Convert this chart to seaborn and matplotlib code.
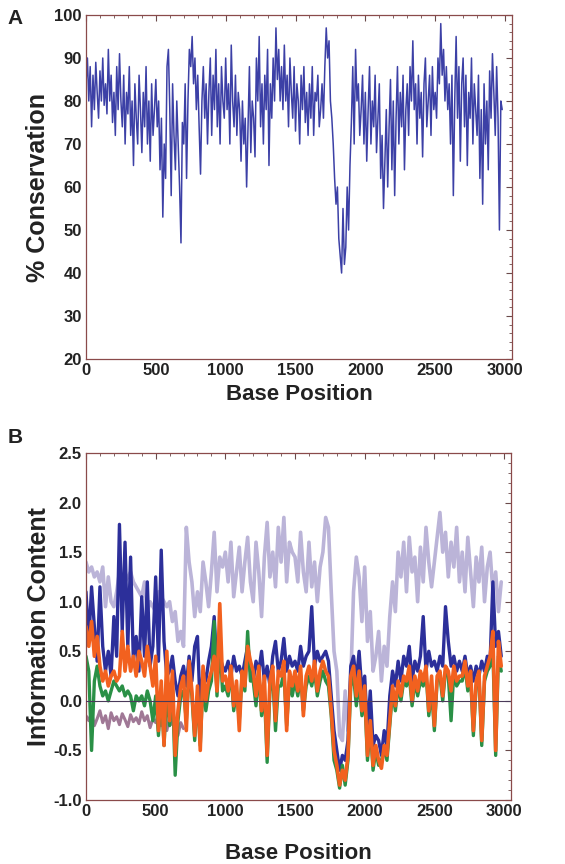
import numpy as np
import pandas as pd
import matplotlib
matplotlib.use("Agg")
import matplotlib.pyplot as plt
from matplotlib import font_manager
from matplotlib.ticker import MultipleLocator
import seaborn as sns

# ---------------- data ----------------
# Panel A: % conservation, one value every 10 bases starting at 0
conservation = [
    84, 90, 80, 88, 74, 86, 78, 89, 82, 76, 87, 80, 90, 79, 84, 77, 92, 80, 86, 75,
    82, 72, 88, 78, 91, 80, 74, 86, 70, 82, 77, 88, 72, 80, 65, 84, 76, 70, 86, 78,
    68, 82, 74, 88, 70, 80, 66, 84, 72, 78, 85, 74, 80, 64, 76, 53, 70, 62, 88, 92,
    78, 58, 84, 72, 64, 80, 70, 60, 47, 75, 70, 84, 62, 80, 92, 88, 95, 84, 90, 78,
    86, 74, 63, 80, 88, 76, 84, 70, 82, 90, 72, 86, 78, 92, 74, 84, 70, 88, 80, 76,
    90, 78, 84, 70, 93, 80, 74, 86, 72, 82, 78, 66, 80, 70, 76, 60, 74, 88, 68, 80,
    76, 67, 90, 80, 95, 74, 84, 70, 86, 78, 92, 65, 84, 76, 90, 80, 97, 85, 92, 80,
    88, 78, 93, 80, 86, 74, 90, 82, 76, 88, 73, 84, 80, 70, 86, 78, 88, 75, 82, 72,
    84, 76, 88, 72, 82, 80, 86, 74, 78, 84, 76, 88, 97, 90, 94, 80, 76, 70, 62, 56,
    60, 48, 44, 40, 55, 42, 46, 60, 50, 65, 75, 88, 70, 92, 80, 84, 72, 78, 86, 70,
    82, 66, 78, 88, 70, 80, 74, 86, 68, 76, 84, 62, 72, 55, 66, 78, 60, 74, 85, 64,
    80, 58, 76, 88, 70, 82, 74, 86, 64, 78, 84, 72, 88, 80, 94, 78, 84, 70, 86, 76,
    82, 67, 84, 90, 74, 80, 86, 72, 88, 78, 82, 76, 90, 84, 98, 86, 92, 80, 88, 78,
    84, 70, 86, 58, 80, 95, 76, 88, 66, 84, 90, 74, 86, 65, 82, 76, 90, 70, 84, 78,
    72, 86, 62, 78, 56, 84, 70, 80, 64, 87, 76, 91, 82, 72, 88, 76, 50, 80, 78,
]
cons_step = 10

# Panel B: information content, one value every 20 bases starting at 0
info_lavender = [
    1.40, 1.30, 1.35, 1.25, 1.30,  1.20, 1.35, 0.95, 1.25, 1.00,
    0.95, 1.10, 1.30, 1.25, 1.20,  1.25, 1.30, 1.20, 1.15, 1.10,
    1.05, 1.20, 0.90, 1.00, 0.95,  0.90, 1.10, 1.05, 1.00, 0.95,
    1.00, 0.80, 0.90, 0.60, 0.70,  0.55, 1.75, 1.40, 1.20, 0.85,
    1.10, 0.90, 1.40, 1.20, 0.95,  1.30, 1.70, 1.10, 1.45, 1.35,
    1.50, 1.20, 1.60, 1.05, 1.30,  1.55, 1.10, 1.40, 1.65, 1.20,
    1.00, 1.60, 1.30, 0.85, 1.45,  1.80, 1.25, 1.50, 1.15, 1.75,
    1.40, 1.85, 1.20, 1.60, 1.50,  1.45, 1.20, 1.70, 1.30, 1.10,
    1.60, 1.15, 1.40, 1.00, 1.35,  1.50, 1.85, 1.75, 1.10, 0.50,
    0.30, -0.35, -0.40, 0.10, -0.30,  0.20, 1.10, 1.45, 1.25, 0.80,
    1.35, 0.60, 0.90, 0.30, 0.45,  0.70, 0.20, 0.55, 0.35, 0.85,
    1.20, 0.90, 1.50, 1.25, 1.60,  1.10, 1.65, 1.30, 1.45, 1.00,
    1.55, 1.20, 1.75, 1.40, 1.15,  1.40, 1.65, 1.90, 1.50, 1.70,
    1.25, 1.60, 1.35, 1.75, 1.20,  1.50, 1.10, 1.65, 1.30, 0.95,
    1.45, 1.20, 1.55, 1.00, 1.35,  1.50, 1.10, 1.30, 0.90, 1.20,
]
info_blue = [
    1.10, 0.60, 1.15, 0.75, 0.40,  1.15, 0.55, 0.30, 0.50, 0.25,
    0.85, 0.45, 1.78, 0.70, 1.60,  0.55, 1.45, 0.40, 0.65, 0.30,
    1.05, 0.45, 1.20, 0.35, 0.55,  1.25, 0.40, 1.52, 0.60, 0.25,
    0.30, 0.45, 0.20, 0.05, 0.25,  0.35, 0.15, 0.45, 0.20, 0.55,
    0.65, -0.10, 0.30, 0.20, 0.40,  0.55, 0.85, 0.30, 0.45, 0.35,
    0.30, 0.40, 0.25, 0.45, 0.30,  0.35, 0.25, 0.40, 0.55, 0.30,
    0.20, 0.40, 0.30, 0.50, 0.20,  0.35, 0.15, 0.45, 0.60, 0.30,
    0.40, 0.63, 0.30, 0.45, 0.35,  0.40, 0.30, 0.55, 0.35, 0.45,
    0.50, 0.95, 0.35, 0.50, 0.40,  0.45, 0.50, 0.40, 0.05, -0.30,
    -0.50, -0.70, -0.55, -0.60, -0.40,  0.35, 0.45, 0.20, 0.50, 0.10,
    0.25, -0.30, 0.10, -0.45, -0.35,  -0.40, -0.55, -0.30, -0.45, 0.05,
    0.30, 0.15, 0.40, 0.20, 0.45,  0.35, 0.55, 0.20, 0.40, 0.30,
    0.45, 0.85, 0.30, 0.50, 0.35,  0.40, 0.30, 0.45, 0.35, 0.95,
    0.60, 0.35, 0.45, 0.30, 0.40,  0.30, 0.45, 0.25, 0.35, 0.20,
    0.35, 0.25, 0.40, 0.30, 0.45,  0.40, 1.20, 0.55, 0.70, 0.45,
]
info_green = [
    0.45, 0.30, -0.50, 0.20, 0.35,  0.15, 0.05, 0.10, 0.00, 0.10,
    0.20, 0.15, 0.10, 0.15, 0.05,  0.10, 0.05, -0.10, 0.05, 0.00,
    0.05, -0.05, 0.10, 0.00, -0.20,  0.05, -0.35, 0.10, -0.45, 0.10,
    -0.25, 0.15, -0.75, -0.20, 0.05,  0.10, -0.20, 0.30, 0.05, -0.40,
    0.05, -0.45, 0.20, -0.10, 0.10,  0.20, 0.80, 0.05, 0.60, 0.10,
    0.15, 0.05, 0.30, -0.10, 0.10,  -0.20, 0.25, 0.10, 0.70, 0.20,
    0.20, -0.05, 0.30, -0.15, 0.10,  -0.62, 0.10, 0.25, -0.30, 0.15,
    0.15, 0.30, -0.25, 0.20, 0.05,  0.20, 0.05, 0.25, -0.10, 0.15,
    0.25, 0.15, 0.30, 0.05, 0.20,  0.30, 0.20, 0.15, -0.15, -0.60,
    -0.70, -0.88, -0.65, -0.85, -0.60,  0.15, 0.25, -0.05, 0.20, -0.15,
    0.05, -0.60, -0.25, -0.70, -0.50,  -0.65, -0.60, -0.50, -0.60, -0.25,
    0.10, -0.10, 0.15, 0.00, 0.20,  0.15, 0.25, -0.05, 0.20, 0.05,
    0.20, 0.15, 0.30, -0.15, 0.10,  -0.30, 0.20, 0.25, 0.00, 0.30,
    0.25, -0.20, 0.30, 0.15, 0.20,  0.20, 0.35, 0.10, 0.25, -0.35,
    0.15, 0.25, -0.45, 0.20, 0.30,  0.35, 0.50, -0.55, 0.45, 0.30,
]
info_orange = [
    0.75, 0.55, 0.80, 0.45, 0.65,  0.35, 0.20, 0.30, 0.15, 0.25,
    0.30, 0.20, 0.25, 0.70, 0.30,  0.55, 0.30, 0.45, 0.25, 0.50,
    0.40, 0.25, 0.55, 0.35, 0.15,  0.45, -0.30, 0.20, -0.45, 0.50,
    -0.20, 0.30, -0.55, -0.10, 0.15,  0.25, -0.30, 0.40, 0.10, -0.35,
    0.15, -0.50, 0.35, 0.00, 0.20,  0.30, 0.45, 0.10, 0.98, 0.20,
    0.25, 0.10, 0.35, -0.05, 0.20,  -0.30, 0.30, 0.15, 0.55, 0.40,
    0.30, 0.05, 0.35, -0.10, 0.25,  -0.55, 0.20, 0.35, -0.20, 0.30,
    0.25, 0.40, -0.30, 0.30, 0.15,  0.30, 0.10, 0.35, -0.15, 0.25,
    0.35, 0.20, 0.40, 0.10, 0.30,  0.40, 0.30, 0.25, -0.10, -0.50,
    -0.65, -0.85, -0.70, -0.80, -0.55,  0.25, 0.35, 0.05, 0.30, -0.10,
    0.15, -0.55, -0.20, -0.65, -0.45,  -0.60, -0.68, -0.45, -0.55, -0.20,
    0.15, -0.05, 0.20, 0.05, 0.25,  0.20, 0.35, 0.00, 0.25, 0.10,
    0.30, 0.20, 0.35, -0.10, 0.25,  -0.25, 0.25, 0.30, 0.05, 0.35,
    0.30, 0.10, 0.35, 0.20, 0.25,  0.25, 0.40, 0.15, 0.30, -0.30,
    0.20, 0.30, -0.40, 0.25, 0.35,  0.45, 0.70, -0.50, 0.60, 0.35,
]
info_mauve = [
    -0.15, -0.20, -0.12, -0.25, -0.18, -0.10, -0.22, -0.15, -0.28, -0.12,
    -0.20, -0.16, -0.24, -0.13, -0.19, -0.26, -0.14, -0.21, -0.17, -0.23,
    -0.11, -0.20, -0.15, -0.27, -0.18, -0.22, -0.13, -0.25, -0.19, -0.30,
    -0.16, -0.24, -0.20, -0.35, -0.22, -0.28,
]
info_step = 20

x_ticks = [0, 500, 1000, 1500, 2000, 2500, 3000]

# ---------------- style ----------------
sns.set_style("white")
names = {f.name for f in font_manager.fontManager.ttflist}
label_font = "Liberation Sans" if "Liberation Sans" in names else "DejaVu Sans"
plt.rcParams["font.family"] = [label_font, "DejaVu Sans"]

W, H = 565, 864
fig = plt.figure(figsize=(W / 100, H / 100), dpi=100)

def px_axes(l, t, r, b):
    return fig.add_axes([l / W, 1 - b / H, (r - l) / W, (b - t) / H])

axA = px_axes(86, 15, 512, 359)
axB = px_axes(86, 453, 511, 800)

spine_col = "#8a4a4a"
tick_kw = dict(fontweight="bold", fontsize=12, color="#222222")

def style_axes(ax, yticks, ymin, fmt):
    for s in ax.spines.values():
        s.set_color(spine_col)
        s.set_linewidth(0.9)
    ax.set_xlim(0, 3050)
    ax.set_xticks(x_ticks)
    ax.set_xticklabels([str(v) for v in x_ticks], **tick_kw)
    ax.xaxis.set_minor_locator(MultipleLocator(100))
    ax.set_yticks(yticks)
    ax.set_yticklabels([fmt.format(v) for v in yticks], **tick_kw)
    ax.yaxis.set_minor_locator(MultipleLocator(ymin))
    ax.tick_params(which="both", direction="in", top=True, right=True,
                   color="#6a4a4a", pad=3)
    ax.tick_params(which="major", length=4, width=0.8)
    ax.tick_params(which="minor", length=2, width=0.6)

# ---------------- panel A ----------------
dfA = pd.DataFrame({"pos": np.arange(len(conservation)) * cons_step,
                    "val": conservation})
sns.lineplot(data=dfA, x="pos", y="val", ax=axA, color="#3c40a6",
             linewidth=1.1)
axA.set_ylim(20, 100)
style_axes(axA, [20, 30, 40, 50, 60, 70, 80, 90, 100], 2, "{:d}")
axA.set_xlabel("Base Position", fontsize=16, fontweight="bold", labelpad=4,
               color="#222222")
axA.set_ylabel("% Conservation", fontsize=18, fontweight="bold", labelpad=3,
               color="#222222")

# ---------------- panel B ----------------
def info_df(vals):
    return pd.DataFrame({"pos": np.arange(len(vals)) * info_step, "val": vals})

series = [
    (info_lavender, "#bbb4d8", 2.6),
    (info_mauve, "#a07896", 2.2),
    (info_blue, "#2c2f9a", 2.4),
    (info_green, "#2a9046", 2.4),
    (info_orange, "#f2611f", 2.6),
]
for vals, col, lw in series:
    sns.lineplot(data=info_df(vals), x="pos", y="val", ax=axB, color=col,
                 linewidth=lw)
axB.axhline(0, color="#4a3a5a", linewidth=0.8, zorder=10)
axB.set_ylim(-1.0, 2.5)
style_axes(axB, [-1.0, -0.5, 0.0, 0.5, 1.0, 1.5, 2.0, 2.5], 0.1, "{:.1f}")
axB.set_xlabel("Base Position", fontsize=16, fontweight="bold", labelpad=17,
               color="#222222")
axB.set_ylabel("Information Content", fontsize=18, fontweight="bold",
               labelpad=2, color="#222222")

fig.text(15 / W, 1 - 18 / H, "A", fontsize=15, fontweight="bold",
         ha="center", va="center", color="#222222")
fig.text(15 / W, 1 - 437 / H, "B", fontsize=15, fontweight="bold",
         ha="center", va="center", color="#222222")

fig.savefig("out.png", dpi=100)
